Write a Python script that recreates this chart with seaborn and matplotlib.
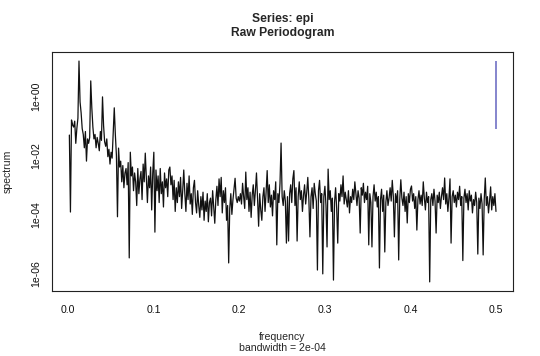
import numpy as np
import pandas as pd
import matplotlib
matplotlib.use("Agg")
import matplotlib.pyplot as plt
import seaborn as sns

# ---- data ----
log10_spectrum = [
    -1.32, -3.92, -0.81, -0.98, -1.05, -0.85, -1.60, -1.10, -0.75, 1.18, -0.20, -0.57, -1.10, -1.30, -1.75, -1.20, -2.20, -1.45, -1.60, -1.40,
    0.51, -0.40, -1.05, -1.45, -1.30, -1.75, -1.40, -1.60, -1.85, -1.20, -1.50, -0.03, -1.00, -1.55, -1.70, -1.45, -2.05, -1.80, -2.30, -1.90,
    -2.10, -1.25, -0.40, -1.30, -2.00, -4.08, -1.76, -2.40, -2.20, -2.90, -2.35, -3.10, -2.60, -2.45, -3.00, -2.25, -5.47, -1.90, -2.70, -2.40,
    -3.20, -2.60, -2.90, -3.70, -2.45, -3.30, -2.80, -2.55, -3.50, -2.30, -2.90, -1.93, -2.80, -3.60, -2.70, -3.10, -2.40, -3.85, -2.60, -1.90,
    -4.60, -2.50, -3.20, -2.70, -3.60, -2.45, -3.30, -2.90, -3.75, -2.60, -3.10, -2.80, -3.40, -2.50, -2.40, -3.00, -2.70, -3.50, -2.85, -3.90,
    -3.10, -3.60, -2.90, -3.40, -2.75, -3.80, -3.20, -2.50, -3.30, -3.90, -2.95, -3.50, -2.70, -3.65, -3.30, -4.00, -3.10, -2.85, -3.60, -3.95,
    -3.20, -3.70, -4.10, -3.40, -3.85, -3.25, -4.20, -3.55, -3.90, -3.30, -4.25, -3.60, -3.45, -4.05, -3.20, -3.75, -4.30, -3.50, -3.05, -3.70,
    -2.80, -3.40, -2.75, -3.95, -3.20, -3.60, -3.10, -4.20, -3.70, -5.64, -3.80, -3.30, -4.00, -3.50, -3.15, -2.78, -3.45, -3.60, -3.40, -3.55,
    -3.30, -3.65, -2.95, -3.40, -3.80, -2.57, -3.50, -3.10, -3.90, -3.25, -4.10, -3.35, -3.00, -3.70, -3.20, -2.60, -3.45, -4.40, -3.30, -3.85,
    -4.20, -3.40, -3.10, -3.90, -3.25, -2.52, -3.60, -3.00, -3.75, -3.35, -4.05, -3.20, -3.50, -2.90, -5.03, -3.30, -3.60, -2.95, -1.59, -3.40,
    -3.70, -3.20, -3.55, -4.97, -3.40, -4.90, -3.30, -3.00, -3.60, -2.80, -2.52, -3.70, -3.10, -4.90, -3.40, -2.90, -3.50, -3.20, -3.90, -3.35,
    -3.00, -3.65, -3.25, -2.75, -3.50, -4.76, -3.40, -3.10, -3.80, -2.95, -3.30, -3.55, -5.88, -3.20, -2.85, -3.60, -3.30, -6.01, -3.40, -3.05,
    -3.70, -5.10, -2.47, -3.50, -3.20, -3.90, -3.45, -6.22, -3.60, -3.10, -3.80, -4.97, -3.30, -3.55, -3.00, -3.40, -2.70, -3.65, -3.25, -3.50,
    -3.75, -3.20, -3.95, -3.40, -3.60, -3.15, -3.50, -2.90, -3.30, -3.70, -3.20, -3.45, -4.63, -3.10, -3.35, -2.95, -3.60, -3.25, -3.50, -3.05,
    -5.03, -3.30, -3.60, -5.10, -3.40, -3.00, -3.55, -3.25, -3.75, -3.40, -5.81, -3.50, -3.15, -3.90, -3.35, -5.27, -3.60, -3.20, -3.70, -3.45,
    -3.10, -3.55, -2.85, -3.40, -4.76, -3.30, -3.60, -3.20, -5.54, -3.50, -2.83, -3.45, -3.70, -3.25, -3.90, -3.40, -4.29, -3.30, -3.60, -3.15,
    -3.04, -3.55, -3.30, -3.80, -3.40, -4.53, -3.50, -3.20, -3.65, -3.35, -3.70, -2.90, -3.45, -3.85, -3.25, -3.60, -3.40, -6.28, -3.50, -3.30,
    -3.70, -3.15, -3.55, -4.63, -3.35, -3.60, -3.25, -3.80, -3.40, -3.10, -3.50, -2.77, -3.65, -3.30, -3.90, -3.45, -2.80, -4.97, -3.40, -3.20,
    -3.60, -3.35, -3.75, -3.25, -3.50, -3.05, -3.70, -3.40, -5.56, -3.45, -3.15, -3.60, -3.30, -3.85, -3.20, -3.55, -3.35, -3.95, -3.50, -3.70,
    -3.25, -3.60, -5.34, -3.45, -3.80, -3.30, -3.65, -5.37, -3.50, -2.77, -3.70, -3.40, -3.95, -3.55, -3.07, -3.85, -3.40, -3.70, -3.30, -3.90,
]
n_freq = len(log10_spectrum)
frequency = np.arange(1, n_freq + 1) / (2 * n_freq)
spectrum = 10.0 ** np.array(log10_spectrum)

ci_frequency = 0.5
ci_low = 10 ** -1.11
ci_high = 10 ** 1.18

y_ticks = [1e0, 1e-2, 1e-4, 1e-6]
y_tick_labels = ["1e+00", "1e-02", "1e-04", "1e-06"]
x_ticks = [0.0, 0.1, 0.2, 0.3, 0.4, 0.5]
x_tick_labels = ["0.0", "0.1", "0.2", "0.3", "0.4", "0.5"]

df = pd.DataFrame({"frequency": frequency, "spectrum": spectrum})

# ---- styling ----
sns.set_style("white")
plt.rcParams["font.family"] = ["Liberation Sans", "DejaVu Sans"]

W, H = 540, 356
fig = plt.figure(figsize=(W / 100, H / 100), dpi=100)
left, right, top, bottom = 51.7, 513.0, 52.0, 291.0
ax = fig.add_axes([left / W, 1 - bottom / H, (right - left) / W, (bottom - top) / H])

sns.lineplot(data=df, x="frequency", y="spectrum", ax=ax, color="#111111",
             linewidth=0.9, estimator=None, sort=False)
ax.vlines(ci_frequency, ci_low, ci_high, color="#6464c0", linewidth=1.1)

ax.set_yscale("log")
ax.set_ylim(10 ** -6.588, 10 ** 1.486)
ax.set_xlim(-0.0194, 0.5199)

ax.set_xticks(x_ticks)
ax.set_xticklabels(x_tick_labels)
ax.set_yticks(y_ticks)
ax.set_yticklabels(y_tick_labels, rotation=90, va="center")
ax.yaxis.set_minor_locator(matplotlib.ticker.NullLocator())

ax.tick_params(axis="both", which="major", direction="out", length=4.3,
               width=0.7, color="#222222", labelsize=7.6, labelcolor="#111111")
ax.tick_params(axis="x", pad=6.0)
ax.tick_params(axis="y", pad=3.5)
for s in ax.spines.values():
    s.set_visible(True)
    s.set_color("#222222")
    s.set_linewidth(0.8)

ax.set_xlabel("")
ax.set_ylabel("")

cx = (left + right) / 2 / W
fig.text(cx, 1 - 19 / H, "Series: epi", ha="center", va="center",
         fontsize=8.7, fontweight="bold")
fig.text(cx, 1 - 33 / H, "Raw Periodogram", ha="center", va="center",
         fontsize=8.7, fontweight="bold")
fig.text(cx, 1 - 336.7 / H, "frequency", ha="center", va="center", fontsize=7.6)
fig.text(cx, 1 - 348 / H, "bandwidth = 2e-04", ha="center", va="center", fontsize=7.6)
fig.text(8 / W, 1 - ((top + bottom) / 2) / H, "spectrum", ha="center",
         va="center", rotation=90, fontsize=7.6)

fig.savefig("out.png", dpi=100, facecolor="white")
